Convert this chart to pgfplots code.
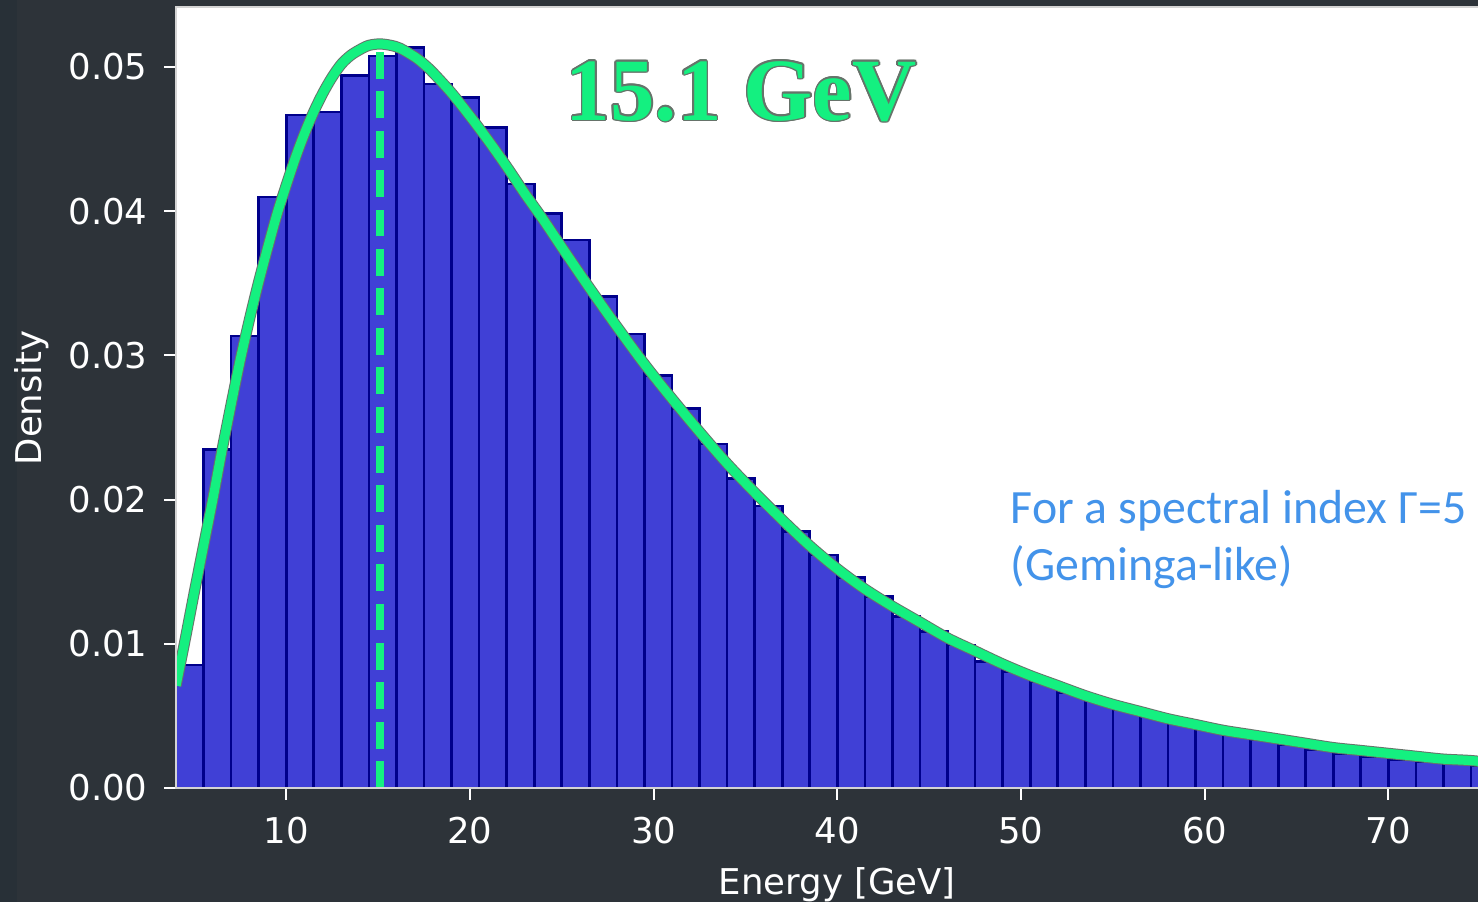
\documentclass[border=0pt]{standalone}
\usepackage{pgfplots}
\usepackage{pgfplotstable}
\pgfplotsset{compat=1.18}
\usepackage{fontspec}
\setmainfont{DejaVu Sans}
\newfontfamily\titlefont{Liberation Serif}
\newfontfamily\notefont{Carlito}

\definecolor{slidebg}{HTML}{2D3339}
\definecolor{slideedge}{HTML}{283037}
\definecolor{barfill}{HTML}{4040D6}
\definecolor{baredge}{HTML}{00008B}
\definecolor{fitgreen}{HTML}{14F080}
\definecolor{fitoutline}{HTML}{66736A}
\definecolor{notecolor}{HTML}{4393EA}
\definecolor{spine}{HTML}{D4D4D4}

% histogram of simulated photon energies: left bin edge, density (bin width 1.5 GeV)
\pgfplotstableread{
E      dens
4.0    0.00852
5.5    0.02346
7.0    0.03135
8.5    0.04099
10.0   0.04668
11.5   0.04689
13.0   0.04941
14.5   0.05077
16.0   0.05136
17.5   0.04882
19.0   0.04790
20.5   0.04582
22.0   0.04189
23.5   0.03985
25.0   0.03800
26.5   0.03407
28.0   0.03148
29.5   0.02860
31.0   0.02631
32.5   0.02386
34.0   0.02145
35.5   0.01956
37.0   0.01777
38.5   0.01616
40.0   0.01461
41.5   0.01327
43.0   0.01190
44.5   0.01084
46.0   0.00992
47.5   0.00876
49.0   0.00807
50.5   0.00737
52.0   0.00661
53.5   0.00605
55.0   0.00546
56.5   0.00499
58.0   0.00453
59.5   0.00414
61.0   0.00368
62.5   0.00333
64.0   0.00298
65.5   0.00268
67.0   0.00241
68.5   0.00217
70.0   0.00199
71.5   0.00180
73.0   0.00166
74.5   0.00153
76.0   0.0
}\histdata

% fitted density curve
\pgfplotstableread{
E      dens
4.0    0.0071
4.5    0.0103
5.0    0.0136
5.5    0.0168
6.0    0.0200
6.5    0.0234
7.0    0.0266
7.5    0.0297
8.0    0.0325
8.5    0.0351
9.0    0.0375
9.5    0.0398
10.0   0.0418
10.5   0.0437
11.0   0.0454
11.5   0.0469
12.0   0.0482
12.5   0.0493
13.0   0.0502
13.5   0.0508
14.0   0.0512
14.5   0.0515
15.1   0.0516
15.7   0.0515
16.2   0.0513
17.0   0.0507
17.5   0.0502
18.0   0.0496
19.0   0.0482
20.0   0.0466
21.0   0.0449
22.0   0.0431
23.0   0.0412
24.0   0.0394
25.0   0.0375
26.5   0.0347
28.0   0.0320
29.5   0.0294
31.0   0.0270
32.5   0.0247
34.0   0.0225
35.5   0.0205
37.0   0.0186
38.5   0.0168
40.0   0.0152
41.5   0.0138
43.0   0.0126
44.5   0.0115
46.0   0.0104
47.5   0.0095
49.0   0.0086
50.5   0.0078
52.0   0.0071
53.5   0.0064
55.0   0.0058
56.5   0.0053
58.0   0.0048
59.5   0.0044
61.0   0.0040
62.5   0.0037
64.0   0.0034
65.5   0.0031
67.0   0.0028
68.5   0.0026
70.0   0.0024
71.5   0.0022
73.0   0.0020
74.5   0.0019
76.0   0.0017
}\fitdata

\newcommand\tickfnt{\fontsize{10.1}{12}\selectfont}
\newcommand\titlefnt{\titlefont\bfseries\fontsize{25.3}{29}\selectfont}
\newcommand\notefnt{\notefont\fontsize{13.6}{16}\selectfont}

\begin{document}
\begin{tikzpicture}[x=1mm,y=1mm]
\path[use as bounding box] (0,0) rectangle (147.8,90.2);
\fill[slidebg] (0,0) rectangle (147.8,90.2);
\fill[slideedge] (0,0) rectangle (1.7,90.2);
\begin{axis}[
  at={(17.6mm,11.4mm)}, anchor=south west,
  scale only axis, width=132.26mm, height=78.05mm,
  xmin=4, xmax=76, ymin=0, ymax=0.05413,
  axis background/.style={fill=white},
  axis on top, clip mode=individual,
  axis line style={spine, line width=0.2mm},
  tick align=outside, xtick pos=bottom, ytick pos=left,
  major tick length=1.2mm,
  tick style={white, line width=0.2mm},
  xtick={10,20,30,40,50,60,70},
  ytick={0,0.01,0.02,0.03,0.04,0.05},
  scaled y ticks=false,
  yticklabel={\pgfmathprintnumber[fixed,fixed zerofill,precision=2]{\tick}},
  /pgf/number format/assume math mode=true,
  ticklabel style={font=\tickfnt, text=white},
  yticklabel style={xshift=-0.4mm},
  xticklabel style={yshift=-0.5mm},
  xlabel={Energy [GeV]}, ylabel={Density},
  label style={font=\tickfnt, text=white},
  xlabel style={at={(axis description cs:0.5,0)}, anchor=base, yshift=-10.7mm},
  ylabel style={at={(axis description cs:-0.1089,0.5)}, anchor=center},
]
\addplot[ybar interval, fill=barfill, draw=baredge, line width=0.27mm] table[x=E, y=dens] {\histdata};
\addplot[fitgreen, line width=0.75mm, dash pattern=on 2.67mm off 1.27mm] coordinates {(15.1,0) (15.1,0.0516)};
\addplot[fitoutline, line width=1.12mm, smooth] table[x=E, y=dens] {\fitdata};
\addplot[fitgreen, line width=0.92mm, smooth] table[x=E, y=dens] {\fitdata};
\coordinate (titlepos) at (axis cs:25.19,0.04632);
\coordinate (noteA) at (axis cs:49.41,0.01836);
\coordinate (noteB) at (axis cs:49.41,0.01442);
\end{axis}
\foreach \a in {0,30,...,330}
  \node[anchor=base west, inner sep=0, text=fitoutline, font=\titlefnt] at ([shift={(\a:0.17mm)}]titlepos) {15.1 GeV};
\node[anchor=base west, inner sep=0, text=fitgreen, font=\titlefnt] at (titlepos) {15.1 GeV};
\node[anchor=base west, inner sep=0, text=notecolor, font=\notefnt] at (noteA) {For a spectral index Γ=5};
\node[anchor=base west, inner sep=0, text=notecolor, font=\notefnt] at (noteB) {(Geminga-like)};
\end{tikzpicture}
\end{document}
